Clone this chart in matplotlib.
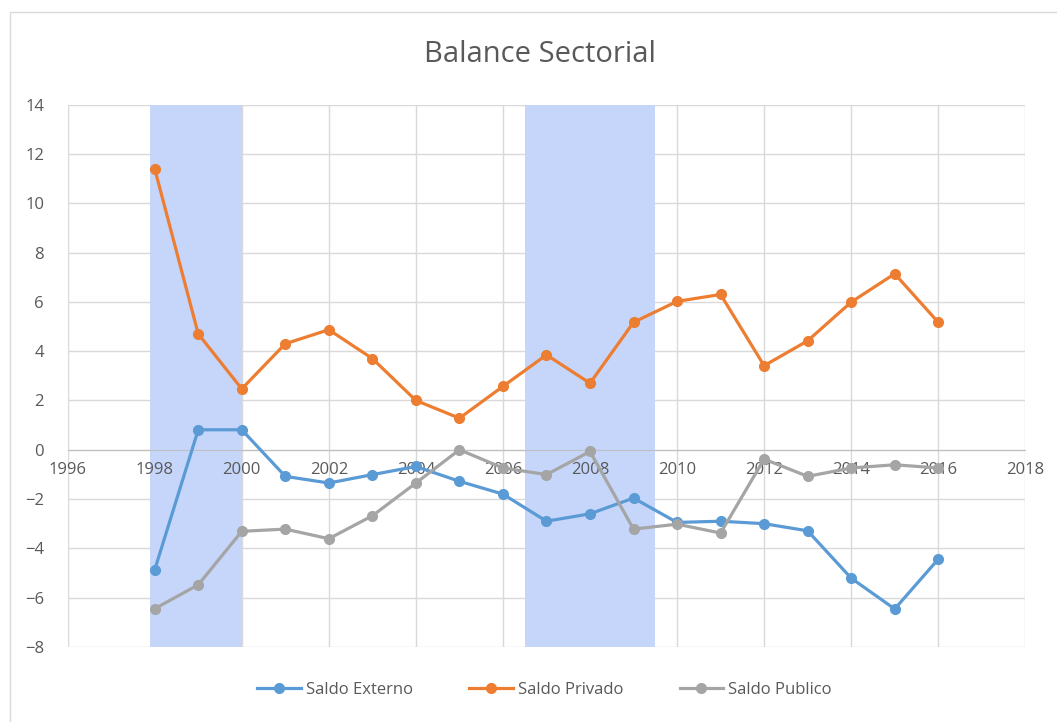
"""Balance Sectorial: external, private and public balances, 1998-2016."""
import matplotlib
matplotlib.use("Agg")
import matplotlib.pyplot as plt
from matplotlib.patches import Rectangle

years = list(range(1998, 2017))
saldo_externo = [-4.87, 0.81, 0.81, -1.08, -1.35, -1.01, -0.68, -1.28, -1.80, -2.90,
                 -2.60, -1.96, -2.95, -2.90, -3.00, -3.29, -5.21, -6.46, -4.44]
saldo_privado = [11.40, 4.70, 2.47, 4.30, 4.87, 3.70, 2.00, 1.28, 2.57, 3.85,
                 2.70, 5.17, 6.02, 6.30, 3.41, 4.42, 5.99, 7.14, 5.17]
saldo_publico = [-6.45, -5.48, -3.31, -3.22, -3.61, -2.68, -1.35, 0.00, -0.74, -1.01,
                 -0.07, -3.22, -3.02, -3.38, -0.38, -1.08, -0.74, -0.61, -0.74]

# shaded periods (start, end) in years
shade_start = [1997.9, 2006.5]
shade_end = [2000.0, 2009.5]

xticks = list(range(1996, 2019, 2))
yticks = list(range(-8, 15, 2))

series = [("Saldo Externo", saldo_externo, "#5b9bd5"),
          ("Saldo Privado", saldo_privado, "#ed7d31"),
          ("Saldo Publico", saldo_publico, "#a5a5a5")]

plt.rcParams["font.family"] = ["Open Sans", "DejaVu Sans"]

fig = plt.figure(figsize=(10.57, 7.22), dpi=100)
ax = fig.add_axes([0.064, 0.104, 0.906, 0.751])

# light border round the chart area
fig.patches.append(Rectangle((0.009, -0.02), 1.1, 1.003, transform=fig.transFigure,
                             fill=False, ec="#d9d9d9", lw=1.0))

# grid drawn by hand so the shading can cover it while tick labels stay on top
for x in xticks:
    ax.axvline(x, color="#d9d9d9", lw=1.0, zorder=0.5)
for y in yticks:
    ax.axhline(y, color="#d9d9d9", lw=1.0, zorder=0.5)

for s, e in zip(shade_start, shade_end):
    ax.axvspan(s, e, color="#c5d6fa", lw=0, zorder=1.0)

for name, vals, col in series:
    ax.plot(years, vals, color=col, lw=2.3, marker="o", ms=7, label=name, zorder=3)

ax.set_xlim(1996, 2018)
ax.set_ylim(-8, 14)
ax.set_xticks(xticks)
ax.set_yticks(yticks)
ax.set_axisbelow(False)

for side in ["top", "right", "left"]:
    ax.spines[side].set_visible(False)
ax.spines["bottom"].set_position(("data", 0))
ax.spines["bottom"].set_color("#bfbfbf")
ax.spines["bottom"].set_zorder(1.5)
ax.tick_params(axis="both", length=0, labelsize=12, labelcolor="#595959")
ax.tick_params(axis="x", pad=9)
ax.tick_params(axis="y", pad=17)

fig.text(0.511, 0.925, "Balance Sectorial", ha="center", va="center",
         fontsize=21, color="#595959")

fig.legend(loc="center", bbox_to_anchor=(0.515, 0.044), ncol=3, frameon=False,
           fontsize=12, labelcolor="#595959", handlelength=2.6, columnspacing=3.4,
           handletextpad=0.3)

fig.savefig("out.png", dpi=100)
